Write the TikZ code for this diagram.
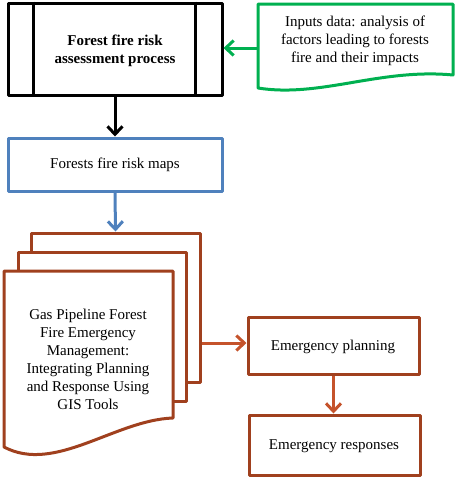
\documentclass[tikz,border=0pt]{standalone}
\usepackage{fontspec}
\setmainfont{Liberation Serif}
\usetikzlibrary{arrows.meta}
\definecolor{grn}{HTML}{00B050}
\definecolor{blu}{HTML}{4F81BD}
\definecolor{brn}{HTML}{A0401E}
\definecolor{orn}{HTML}{C5532B}
\begin{document}
\begin{tikzpicture}[x=1pt,y=-1pt,
  txt/.style={font=\fontsize{15}{18}\selectfont, align=center, inner sep=0pt},
  box/.style={draw, line width=3pt, fill=white, inner sep=0pt, line join=round},
  ghost/.style={inner sep=0pt, outer sep=1.5pt},
  arr/.style={line width=3pt, -{Straight Barb[length=8pt,width=15pt,line width=3pt]}}]
\useasboundingbox (0,0) rectangle (458,480);

% process box
\node[box, draw=black, minimum width=214pt, minimum height=92pt] (proc) at (115,49) {};
\draw[line width=3pt] ([xshift=27pt]proc.north west) -- ([xshift=27pt]proc.south west);
\draw[line width=3pt] ([xshift=-28pt]proc.north east) -- ([xshift=-28pt]proc.south east);
\node[txt, font=\fontsize{15}{18}\selectfont\bfseries] (proctxt) at (115,51) {Forest fire risk\\assessment process};

% inputs document
\draw[grn, line width=3pt, line join=round] (258,4) -- (453,4) -- (453,75)
  .. controls (380,68) and (320,98) .. (258,88) -- cycle;
\node[ghost, minimum width=195pt, minimum height=84pt] (inp) at (355.5,46) {};
\node[txt] (inptxt) at (355,41) {Inputs data: analysis of\\factors leading to forests\\fire and their impacts};

% risk maps
\node[box, draw=blu, minimum width=214pt, minimum height=53pt] (maps) at (115,164.5) {};
\node[txt] (mapstxt) at (115,165) {Forests fire risk maps};

% stacked documents
\node[box, draw=brn, minimum width=169pt, minimum height=149pt] (back) at (115.5,307.5) {};
\node[box, draw=brn, minimum width=168pt, minimum height=149pt] (mid) at (102,326.5) {};
\draw[brn, line width=3pt, fill=white, line join=round] (4,271) -- (173,271) -- (173,418)
  .. controls (115,420) and (55,474) .. (4,447) -- cycle;
\node[txt] (front) at (88,359) {Gas Pipeline Forest\\Fire Emergency\\Management:\\Integrating Planning\\and Response Using\\GIS Tools};

% emergency boxes
\node[box, draw=brn, minimum width=171pt, minimum height=57pt] (plan) at (333.5,345.5) {};
\node[txt] (plantxt) at (333,347) {Emergency planning};
\node[box, draw=brn, minimum width=171pt, minimum height=60pt] (resp) at (334.5,445) {};
\node[txt] (resptxt) at (334,446) {Emergency responses};

% connectors
\draw[arr, grn] (inp.west |- 0,48) -- (proc.east |- 0,48);
\draw[arr, black] (proc.south) -- (maps.north);
\draw[arr, blu] (maps.south) -- (back.north);
\draw[arr, orn] (back.east |- 0,343) -- (plan.west |- 0,343);
\draw[arr, orn] (plan.south) -- (plan.south |- resp.north);
\end{tikzpicture}
\end{document}
